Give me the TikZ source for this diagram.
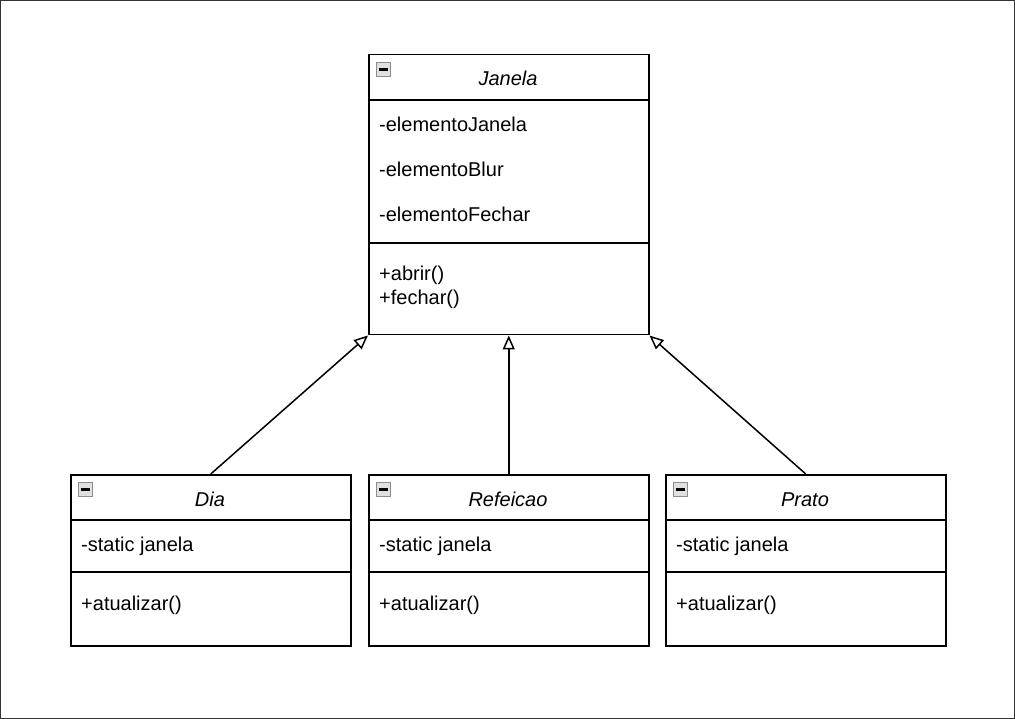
\documentclass[tikz,border=0pt]{standalone}
\usepackage{fontspec}
\setmainfont{Liberation Sans}
\usetikzlibrary{arrows.meta}
\begin{document}
\begin{tikzpicture}[x=1pt,y=-1pt,
  every node/.style={font=\fontsize{20}{23}\selectfont},
  classbox/.style={draw=black,line width=1.5pt,minimum width=280pt,inner sep=0pt,anchor=north west},
  sep/.style={line width=1.5pt},
  title/.style={font=\fontsize{20}{23}\selectfont\itshape,anchor=base,inner sep=0pt},
  attr/.style={anchor=base west,inner sep=0pt},
  icon/.style={draw=black!45,fill=black!12,minimum size=14pt,inner sep=0pt,line width=0.9pt,anchor=north west},
  inherit/.style={line width=1.5pt,-{Triangle[open,length=14pt,width=12pt]}}
]
% frame
\draw[line width=1.2pt,draw=black!80] (0.6,0.6) rectangle (1014.4,718.4);
\useasboundingbox (0,0) rectangle (1015,719);

% ===== Janela =====
\node[classbox,minimum height=280pt] (jan) at (368,54) {};
\draw[sep] (368,100) -- (648,100);
\draw[sep] (368,243) -- (648,243);
\node[icon] (janicon) at (376,62) {};
\draw[line width=2.2pt] ([xshift=2.5pt]janicon.west) -- ([xshift=-2.5pt]janicon.east);
\node[title] (jantitle) at (508,86) {Janela};
\node[attr] (ja1) at (379,132) {-elementoJanela};
\node[attr] (ja2) at (379,177) {-elementoBlur};
\node[attr] (ja3) at (379,222) {-elementoFechar};
\node[attr] (jm1) at (379,281) {+abrir()};
\node[attr] (jm2) at (379,305) {+fechar()};

% ===== Dia =====
\node[classbox,minimum height=171pt] (dia) at (70,474) {};
\draw[sep] (70,520) -- (350,520);
\draw[sep] (70,572) -- (350,572);
\node[icon] (diaicon) at (78,482) {};
\draw[line width=2.2pt] ([xshift=2.5pt]diaicon.west) -- ([xshift=-2.5pt]diaicon.east);
\node[title] (diatitle) at (210,506) {Dia};
\node[attr] (da1) at (81,551) {-static janela};
\node[attr] (dm1) at (81,610) {+atualizar()};

% ===== Refeicao =====
\node[classbox,minimum height=171pt] (ref) at (368,474) {};
\draw[sep] (368,520) -- (648,520);
\draw[sep] (368,572) -- (648,572);
\node[icon] (reficon) at (376,482) {};
\draw[line width=2.2pt] ([xshift=2.5pt]reficon.west) -- ([xshift=-2.5pt]reficon.east);
\node[title] (reftitle) at (508,506) {Refeicao};
\node[attr] (ra1) at (379,551) {-static janela};
\node[attr] (rm1) at (379,610) {+atualizar()};

% ===== Prato =====
\node[classbox,minimum height=171pt] (pra) at (665,474) {};
\draw[sep] (665,520) -- (945,520);
\draw[sep] (665,572) -- (945,572);
\node[icon] (praicon) at (673,482) {};
\draw[line width=2.2pt] ([xshift=2.5pt]praicon.west) -- ([xshift=-2.5pt]praicon.east);
\node[title] (pratitle) at (805,506) {Prato};
\node[attr] (pa1) at (676,551) {-static janela};
\node[attr] (pm1) at (676,610) {+atualizar()};

% ===== inheritance =====
\draw[inherit] (dia.north) -- (jan.south west);
\draw[inherit] (ref.north) -- (jan.south);
\draw[inherit] (pra.north) -- (jan.south east);
\end{tikzpicture}
\end{document}
